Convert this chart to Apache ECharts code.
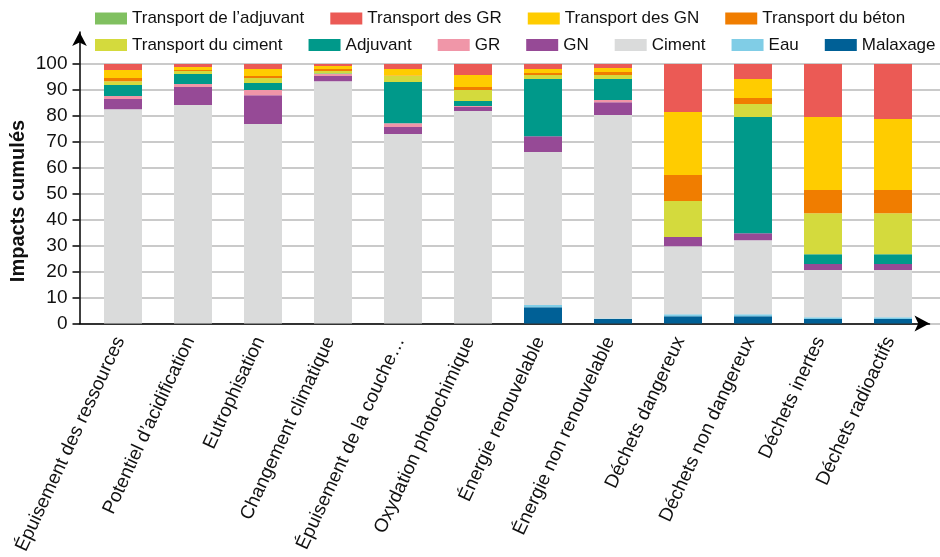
<!DOCTYPE html>
<html>
<head>
<meta charset="utf-8">
<script src="https://cdn.jsdelivr.net/npm/echarts@6/dist/echarts.min.js"></script>
<style>
html,body{margin:0;padding:0;background:#fff;}
#chart{width:940px;height:557px;}
</style>
</head>
<body>
<div id="chart"></div>
<script>
const categories = [
  'Épuisement des ressources', 'Potentiel d’acidification', 'Eutrophisation',
  'Changement climatique', 'Épuisement de la couche…', 'Oxydation photochimique',
  'Énergie renouvelable', 'Énergie non renouvelable', 'Déchets dangereux',
  'Déchets non dangereux', 'Déchets inertes', 'Déchets radioactifs'
];
const yTicks = [0, 10, 20, 30, 40, 50, 60, 70, 80, 90, 100];

const malaxage   = [0, 0, 0, 0, 0, 0, 6.3, 1.7, 2.8, 2.8, 1.7, 1.7];
const eau        = [0, 0, 0, 0, 0, 0, 0.8, 0.2, 0.8, 0.8, 0.7, 0.7];
const ciment     = [82.6, 84.2, 76.9, 93.4, 73.0, 81.9, 59.0, 78.4, 26.2, 28.5, 18.2, 18.2];
const gn         = [3.9, 6.9, 11.1, 2.0, 2.7, 1.5, 6.1, 5.0, 3.5, 2.7, 2.3, 2.3];
const gr         = [1.2, 1.2, 2.0, 0.7, 1.5, 0.4, 0, 0.8, 0, 0, 0, 0];
const adjuvant   = [4.2, 3.8, 2.7, 0.2, 15.9, 1.9, 22.0, 8.1, 0, 44.8, 3.8, 3.8];
const trCiment   = [1.5, 1.2, 1.9, 1.0, 2.3, 4.3, 1.6, 1.6, 13.9, 5.0, 15.8, 15.8];
const trBeton    = [1.2, 0.4, 0.8, 0.8, 0.2, 1.1, 0.7, 1.1, 10.0, 2.3, 8.9, 8.9];
const trGN       = [3.1, 1.1, 2.7, 1.1, 2.5, 4.7, 1.6, 1.6, 24.3, 7.3, 28.2, 27.4];
const trGR       = [2.3, 1.2, 1.9, 0.8, 1.9, 4.2, 1.9, 1.5, 18.5, 5.8, 20.4, 21.2];
const trAdjuvant = [0, 0, 0, 0, 0, 0, 0, 0, 0, 0, 0, 0];

const seriesDefs = [
  ['Malaxage', malaxage, '#006096'],
  ['Eau', eau, '#80cde6'],
  ['Ciment', ciment, '#dadbdb'],
  ['GN', gn, '#964a96'],
  ['GR', gr, '#f096a8'],
  ['Adjuvant', adjuvant, '#00998a'],
  ['Transport du ciment', trCiment, '#d4da3d'],
  ['Transport du béton', trBeton, '#f07d00'],
  ['Transport des GN', trGN, '#ffcc00'],
  ['Transport des GR', trGR, '#eb5a55'],
  ['Transport de l’adjuvant', trAdjuvant, '#80c060']
];
const legendRow1 = ['Transport de l’adjuvant', 'Transport des GR', 'Transport des GN', 'Transport du béton'];
const legendRow2 = ['Transport du ciment', 'Adjuvant', 'GR', 'GN', 'Ciment', 'Eau', 'Malaxage'];

const FONT = "'Liberation Sans', Arial, sans-serif";
const chart = echarts.init(document.getElementById('chart'), null, {renderer: 'canvas'});

const legendCommon = {
  icon: 'rect', itemWidth: 32, itemHeight: 12, itemGap: 26, padding: 0,
  textStyle: {fontSize: 17, color: '#111', fontFamily: FONT}
};

chart.setOption({
  animation: false,
  textStyle: {fontFamily: FONT},
  legend: [
    Object.assign({data: legendRow1, left: 95, top: 10}, legendCommon),
    Object.assign({data: legendRow2, left: 95, top: 36.5}, legendCommon)
  ],
  grid: [
    {left: 88, width: 840, top: 64, bottom: 233.5, outerBoundsMode: 'none', containLabel: false},
    {left: 79.5, right: 0, top: 64, bottom: 233.5, outerBoundsMode: 'none', containLabel: false},
    {left: 79.5, right: 10.5, top: 32, bottom: 233.5, outerBoundsMode: 'none', containLabel: false}
  ],
  xAxis: [
    {
      gridIndex: 0, type: 'category', data: categories,
      axisLine: {show: false}, axisTick: {show: false},
      axisLabel: {interval: 0, rotate: 65, margin: 8, fontSize: 19, color: '#111', fontFamily: FONT,
                  padding: [0, 7, 8, 0]}
    },
    {gridIndex: 1, type: 'value', min: 0, max: 1, show: false},
    {
      gridIndex: 2, type: 'value', min: 0, max: 1,
      axisLine: {show: true, symbol: ['none', 'arrow'], symbolSize: [12, 15], lineStyle: {color: '#000', width: 1.5}},
      axisTick: {show: false}, axisLabel: {show: false}, splitLine: {show: false}
    }
  ],
  yAxis: [
    {gridIndex: 0, type: 'value', min: 0, max: 100, show: false},
    {
      gridIndex: 1, type: 'value', min: yTicks[0], max: yTicks[yTicks.length - 1], interval: 10,
      axisLine: {show: false},
      axisTick: {show: true, length: 7, lineStyle: {color: '#000', width: 1.5}},
      axisLabel: {fontSize: 19, color: '#111', margin: 12, fontFamily: FONT},
      splitLine: {show: true, lineStyle: {color: '#b8b8b8', width: 1.5}}
    },
    {
      gridIndex: 2, type: 'value', min: 0, max: 1,
      axisLine: {show: true, symbol: ['none', 'arrow'], symbolSize: [11, 14], lineStyle: {color: '#000', width: 1.5}},
      axisTick: {show: false}, axisLabel: {show: false}, splitLine: {show: false}
    }
  ],
  graphic: [{
    type: 'text', x: 18.5, y: 201, rotation: Math.PI / 2,
    style: {text: 'Impacts cumulés', font: "bold 20px 'Liberation Sans', Arial, sans-serif", fill: '#111',
            textAlign: 'center', textVerticalAlign: 'middle'}
  }],
  series: seriesDefs.map(([name, data, color]) => ({
    name, type: 'bar', stack: 'total', data,
    xAxisIndex: 0, yAxisIndex: 0, barWidth: 38,
    itemStyle: {color}
  }))
});
</script>
</body>
</html>
